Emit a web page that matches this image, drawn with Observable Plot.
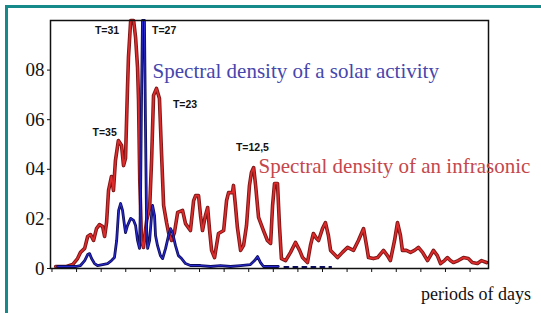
<!DOCTYPE html>
<html><head><meta charset="utf-8">
<script src="https://cdn.jsdelivr.net/npm/d3@7"></script>
<script src="https://cdn.jsdelivr.net/npm/@observablehq/plot@0.6"></script>
<style>
body{margin:0;background:#fff;}
#wrap{position:relative;width:541px;height:313px;overflow:hidden;background:#fff;}
#bl{position:absolute;left:5px;top:5px;width:3px;height:320px;background:#168a8a;}
#bt{position:absolute;left:5px;top:5px;width:540px;height:3px;background:#168a8a;}
#xl{position:absolute;left:421px;top:284px;font:18px "Liberation Serif",serif;color:#111;white-space:nowrap;}
#wrap svg{position:absolute;left:0;top:0;}
</style></head><body>
<div id="wrap"><div id="bl"></div><div id="bt"></div><div id="xl">periods of days</div></div>
<script>
// Spectral density of an infrasonic (red)
const redPeriod = [0.15,0.59,0.84,1.04,1.16,1.33,1.45,1.57,1.69,1.81,1.93,2.06,2.14,2.22,2.30,2.42,2.50,2.58,2.70,2.83,2.91,2.99,3.07,3.11,3.20,3.32,3.40,3.48,3.52,3.57,3.64,3.72,3.85,3.97,4.05,4.13,4.25,4.37,4.45,4.54,4.66,4.74,4.86,4.98,5.11,5.31,5.43,5.63,5.76,5.84,5.96,6.04,6.12,6.24,6.33,6.41,6.49,6.61,6.77,6.98,7.10,7.18,7.34,7.38,7.46,7.54,7.67,7.79,7.91,8.03,8.11,8.20,8.28,8.40,8.60,8.76,8.89,8.97,9.05,9.17,9.25,9.33,9.50,9.70,9.90,10.07,10.19,10.39,10.51,10.63,10.76,10.84,11.00,11.12,11.24,11.33,11.61,11.81,12.02,12.26,12.46,12.67,12.79,12.87,13.07,13.24,13.48,13.64,13.76,13.93,14.05,14.17,14.25,14.41,14.58,14.74,14.90,15.07,15.27,15.39,15.51,15.67,15.80,15.96,16.08,16.20,16.32,16.52,16.73,16.93,17.09,17.30,17.46,17.67];
const redDensity = [0.008,0.008,0.016,0.040,0.065,0.081,0.129,0.137,0.113,0.161,0.177,0.169,0.129,0.185,0.315,0.371,0.315,0.435,0.516,0.496,0.415,0.444,0.726,0.851,1.0,1.0,0.931,0.810,0.677,0.355,0.113,0.085,0.194,0.242,0.435,0.698,0.726,0.685,0.476,0.254,0.185,0.145,0.113,0.145,0.226,0.234,0.181,0.153,0.274,0.294,0.294,0.214,0.153,0.214,0.246,0.153,0.073,0.044,0.141,0.153,0.274,0.306,0.306,0.335,0.254,0.165,0.073,0.093,0.173,0.335,0.387,0.407,0.335,0.206,0.153,0.113,0.101,0.254,0.343,0.343,0.173,0.040,0.032,0.065,0.105,0.073,0.044,0.024,0.093,0.141,0.121,0.113,0.161,0.185,0.133,0.073,0.044,0.065,0.085,0.073,0.113,0.161,0.093,0.044,0.040,0.044,0.073,0.052,0.032,0.113,0.185,0.133,0.073,0.073,0.065,0.073,0.085,0.065,0.032,0.052,0.073,0.052,0.020,0.032,0.044,0.032,0.024,0.032,0.044,0.040,0.024,0.020,0.032,0.024];
// Spectral density of a solar activity (blue)
const bluePeriod = [0.23,0.63,0.96,1.16,1.33,1.45,1.53,1.61,1.73,1.85,2.06,2.26,2.42,2.54,2.63,2.71,2.79,2.87,2.95,2.99,3.07,3.20,3.32,3.40,3.48,3.56,3.60,3.64,3.68,3.76,3.80,3.85,3.89,3.97,4.05,4.09,4.17,4.21,4.29,4.41,4.50,4.62,4.74,4.82,4.90,5.02,5.14,5.27,5.43,5.63,6.04,6.45,6.85,7.26,7.67,8.07,8.24,8.36,8.48,8.60,8.89,9.20];
const blueDensity = [0.008,0.008,0.008,0.012,0.032,0.056,0.060,0.040,0.020,0.012,0.016,0.020,0.032,0.044,0.113,0.234,0.262,0.234,0.173,0.145,0.173,0.202,0.194,0.173,0.113,0.081,0.274,0.677,1.0,1.0,0.597,0.153,0.081,0.113,0.214,0.254,0.214,0.133,0.093,0.052,0.040,0.081,0.133,0.161,0.145,0.093,0.052,0.040,0.020,0.012,0.012,0.008,0.012,0.008,0.012,0.016,0.032,0.048,0.024,0.008,0.008,0.008];
const blueTailPeriod = [9.45, 11.35];
const blueTailDensity = [0.006, 0.006];

const xTicks = d3.range(0, 18);
const yTicks = [0, 0.2, 0.4, 0.6, 0.8];
const yTickLabels = ["0", "02", "04", "06", "08"];

const seriesNames = ["Spectral density of a solar activity", "Spectral density of an infrasonic"];
const seriesNameX = [4.09, 8.40];
const seriesNameY = [0.794, 0.411];
const seriesColors = ["#4646ad", "#c5474c"];

const peakNames = ["T=31", "T=27", "T=23", "T=35", "T=12,5"];
const peakX = [2.24, 4.56, 5.41, 2.14, 8.15];
const peakY = [0.958, 0.958, 0.661, 0.548, 0.488];

const red = redPeriod.map((p, i) => ({p, d: redDensity[i]}));
const blue = bluePeriod.map((p, i) => ({p, d: blueDensity[i]}));
const blueTail = blueTailPeriod.map((p, i) => ({p, d: blueTailDensity[i]}));
const names = seriesNames.map((t, i) => ({t, x: seriesNameX[i], y: seriesNameY[i], c: seriesColors[i]}));
const peaks = peakNames.map((t, i) => ({t, x: peakX[i], y: peakY[i]}));

const chart = Plot.plot({
  width: 541, height: 313,
  marginLeft: 50, marginRight: 53, marginTop: 20, marginBottom: 45,
  style: {fontFamily: '"Liberation Serif", serif', fontSize: "19px", background: "transparent", color: "#111"},
  x: {domain: [-0.06, 17.75], ticks: xTicks, tickFormat: () => "", tickSize: 4, label: null},
  y: {domain: [0, 1], ticks: yTicks, tickFormat: d => yTickLabels[yTicks.indexOf(d)], tickSize: 3, tickPadding: 3, label: null},
  marks: [
    Plot.line(red, {x: "p", y: "d", stroke: "#7d1616", strokeWidth: 3.6}),
    Plot.line(red, {x: "p", y: "d", stroke: "#de2c2c", strokeWidth: 1.7}),
    Plot.line(blue, {x: "p", y: "d", stroke: "#0c0c5c", strokeWidth: 2.8}),
    Plot.line(blue, {x: "p", y: "d", stroke: "#2a2ad0", strokeWidth: 1.1}),
    Plot.line(blueTail, {x: "p", y: "d", stroke: "#0c0c5c", strokeWidth: 2, strokeDasharray: "4,5"}),
    Plot.frame({stroke: "#111", strokeWidth: 1.5}),
    Plot.text(names, {x: "x", y: "y", text: "t", fill: "c", textAnchor: "start", fontSize: 21, fontFamily: '"Liberation Serif", serif'}),
    Plot.text(peaks, {x: "x", y: "y", text: "t", fill: "#111", fontSize: 10.5, fontWeight: "bold", fontFamily: '"Liberation Sans", Arial, sans-serif'})
  ]
});
document.getElementById("wrap").appendChild(chart);
</script>
</body></html>
